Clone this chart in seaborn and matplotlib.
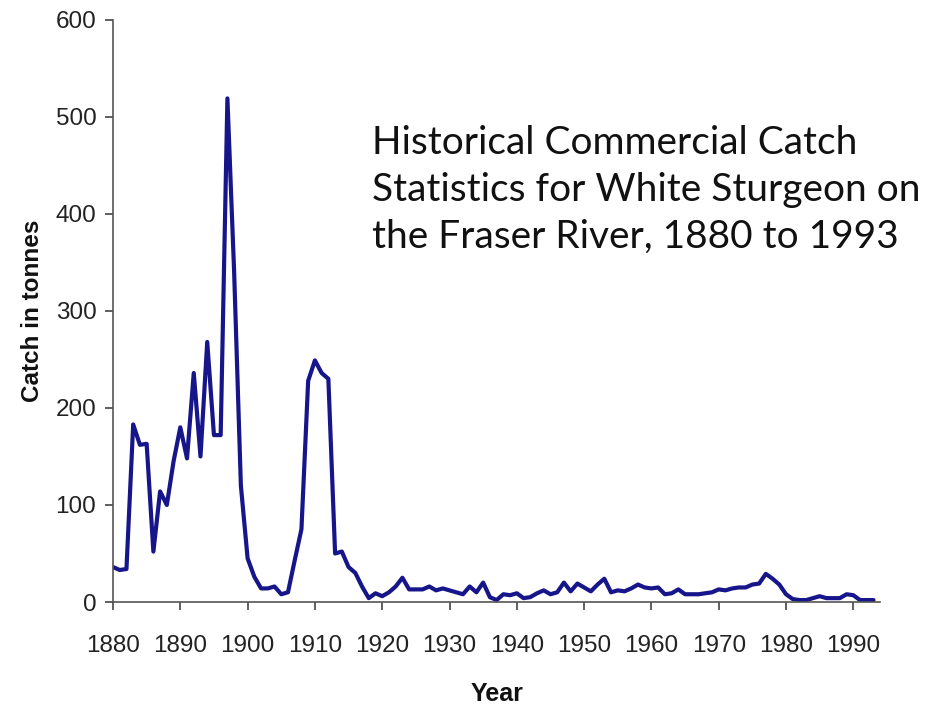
import matplotlib
matplotlib.use("Agg")
import matplotlib.pyplot as plt
import seaborn as sns
import pandas as pd

years = list(range(1880, 1994))
catch = [
    36, 33, 34, 183, 162, 163, 52, 114, 100, 145,   # 1880-1889
    180, 148, 236, 150, 268, 172, 172, 519, 340, 120,  # 1890-1899
    45, 26, 14, 14, 16, 8, 10, 43, 75, 228,  # 1900-1909
    249, 236, 230, 50, 52, 36, 30, 16, 4, 9,  # 1910-1919
    6, 10, 16, 25, 13, 13, 13, 16, 12, 14,  # 1920-1929
    12, 10, 8, 16, 10, 20, 5, 2, 8, 7,  # 1930-1939
    9, 4, 5, 9, 12, 8, 10, 20, 11, 19,  # 1940-1949
    15, 11, 18, 24, 10, 12, 11, 14, 18, 15,  # 1950-1959
    14, 15, 8, 9, 13, 8, 8, 8, 9, 10,  # 1960-1969
    13, 12, 14, 15, 15, 18, 19, 29, 24, 18,  # 1970-1979
    8, 3, 2, 2, 4, 6, 4, 4, 4, 8,  # 1980-1989
    7, 2, 2, 2,  # 1990-1993
]
x_ticks = list(range(1880, 2000, 10))
y_ticks = list(range(0, 700, 100))

df = pd.DataFrame({"Year": years, "Catch": catch})

sns.set_style("white")
plt.rcParams["font.family"] = ["Liberation Sans", "DejaVu Sans"]

fig = plt.figure(figsize=(9.3, 7.07), dpi=100)
ax = fig.add_axes([0.1215, 0.1485, 0.825, 0.8235])

sns.lineplot(data=df, x="Year", y="Catch", ax=ax, color="#16168a", linewidth=3.0)

ax.set_xlim(1880, 1994)
ax.set_ylim(0, 600)
ax.set_xticks(x_ticks)
ax.set_yticks(y_ticks)
ax.tick_params(axis="both", which="major", direction="out", length=6, width=1.2,
               color="#444444", labelsize=17.5, labelcolor="#222222",
               bottom=True, left=True)
ax.tick_params(axis="x", pad=18)
ax.tick_params(axis="y", pad=6)
for s in ["top", "right"]:
    ax.spines[s].set_visible(False)
for s in ["left", "bottom"]:
    ax.spines[s].set_color("#555555")
    ax.spines[s].set_linewidth(1.2)

ax.set_xlabel("Year", fontsize=18, fontweight="bold", labelpad=18, color="#111111")
ax.set_ylabel("Catch in tonnes", fontsize=17.5, fontweight="bold", labelpad=8, color="#111111")

ax.text(0.3375, 0.82,
        "Historical Commercial Catch\nStatistics for White Sturgeon on\nthe Fraser River, 1880 to 1993",
        transform=ax.transAxes, fontsize=28, family=["Lato", "DejaVu Sans"],
        va="top", ha="left", linespacing=1.39, color="#111111")

fig.savefig("out.png", dpi=100)
